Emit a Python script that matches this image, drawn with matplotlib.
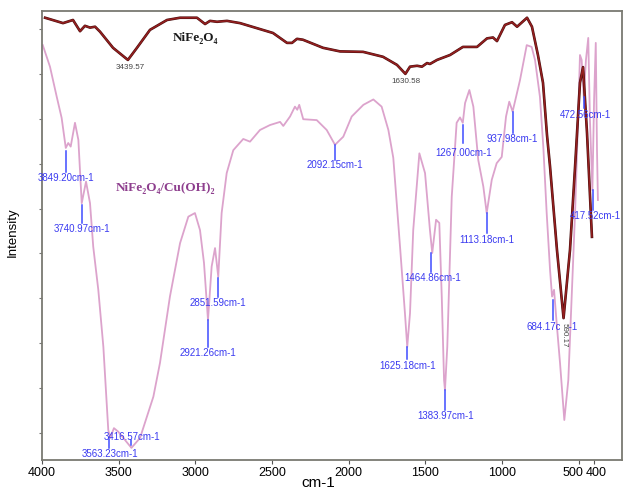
import matplotlib
matplotlib.use("Agg")
import matplotlib.pyplot as plt
import matplotlib.patheffects as pe
from matplotlib.transforms import ScaledTranslation
import numpy as np

# NiFe2O4 spectrum (top, brown)
nife_wn = [3980, 3863, 3798, 3752, 3720, 3687, 3654, 3622, 3537, 3440, 3381, 3296,
           3185, 3100, 2990, 2937, 2905, 2859, 2794, 2709, 2494, 2403, 2370, 2338,
           2299, 2168, 2057, 1907, 1777, 1686, 1631, 1601, 1555, 1523, 1490, 1471,
           1425, 1340, 1256, 1164, 1099, 1060, 1034, 982, 936, 903, 838, 806, 767,
           734, 708, 688, 643, 600, 558, 525, 493, 473, 447, 415]
nife_int = [98.5, 97.3, 98.0, 95.5, 96.7, 96.3, 96.5, 95.4, 91.8, 89.1, 91.8, 95.8,
            98.0, 98.5, 98.5, 97.1, 97.8, 97.6, 97.8, 97.3, 95.1, 92.9, 92.9, 93.8,
            93.6, 91.8, 91.0, 90.9, 89.8, 88.0, 86.0, 87.6, 87.8, 87.6, 88.4, 88.2,
            89.1, 90.2, 92.0, 92.0, 93.9, 94.1, 93.3, 96.9, 97.5, 96.5, 98.5, 96.5,
            90.2, 84.0, 72.4, 65.3, 46.8, 31.6, 46.8, 65.3, 84.0, 87.5, 72.8, 49.7]

# NiFe2O4/Cu(OH)2 spectrum (pink)
comp_wn = [3995, 3948, 3904, 3872, 3845, 3829, 3813, 3785, 3763, 3741, 3713, 3687,
           3666, 3633, 3600, 3568, 3556, 3531, 3503, 3417, 3361, 3274, 3231, 3166,
           3100, 3046, 3003, 2970, 2944, 2918, 2894, 2872, 2851, 2829, 2796, 2753,
           2688, 2644, 2579, 2514, 2448, 2427, 2383, 2351, 2336, 2323, 2297, 2209,
           2144, 2090, 2036, 1981, 1905, 1840, 1786, 1742, 1710, 1666, 1634, 1619,
           1601, 1580, 1540, 1503, 1471, 1456, 1431, 1410, 1394, 1379, 1373, 1358,
           1329, 1297, 1275, 1257, 1242, 1214, 1188, 1156, 1123, 1101, 1068, 1036,
           1003, 975, 954, 932, 884, 840, 808, 786, 754, 732, 710, 688, 675, 662,
           645, 623, 595, 569, 547, 525, 504, 493, 482, 468, 454, 439, 428, 412,
           401, 390, 382, 376]
comp_int = [92.4, 87.6, 80.9, 76.2, 69.5, 70.6, 69.8, 75.1, 71.3, 57.2, 62.0, 57.2,
            47.5, 37.9, 25.2, 6.7, 4.9, 7.1, 6.3, 2.7, 4.9, 14.1, 21.6, 36.4,
            48.3, 54.2, 55.0, 51.2, 43.9, 31.2, 43.1, 47.2, 40.8, 55.0, 63.9, 69.0,
            71.5, 70.9, 73.5, 74.6, 75.3, 74.4, 76.5, 78.7, 78.0, 79.1, 75.9, 75.7,
            73.5, 70.2, 72.0, 76.5, 79.1, 80.3, 78.7, 73.5, 67.3, 47.5, 32.7, 25.2,
            32.7, 51.2, 68.3, 63.9, 51.2, 46.1, 53.5, 52.8, 36.4, 17.8, 15.6, 25.2,
            58.6, 75.1, 76.3, 75.1, 79.5, 82.4, 78.7, 66.8, 60.9, 55.0, 62.4, 66.1,
            67.5, 76.5, 79.8, 77.6, 84.6, 92.4, 92.0, 89.1, 80.9, 69.8, 55.0, 42.3,
            36.4, 37.9, 30.5, 21.6, 8.9, 17.8, 36.4, 55.0, 77.3, 90.2, 89.1, 80.8,
            89.1, 94.0, 75.7, 60.1, 80.2, 92.9, 69.0, 57.9]

# peak labels: text, wavenumber of marker, marker top, marker bottom, text x, text y
peak_text = ["3849.20cm-1", "3740.97cm-1", "3416.57cm-1", "3563.23cm-1", "2921.26cm-1",
             "2851.59cm-1", "2092.15cm-1", "1625.18cm-1", "1464.86cm-1", "1383.97cm-1",
             "1267.00cm-1", "1113.18cm-1", "937.98cm-1", "472.56cm-1", "417.52cm-1",
             "684.17cm-1"]
peak_wn = [3845, 3741, 3422, 3561, 2916, 2851, 2090, 1619, 1461, 1373, 1257, 1101,
           932, 465, 410, 671]
peak_top = [68.8, 56.8, 4.5, 4.7, 31.2, 40.5, 70.2, 25.2, 46.1, 15.6, 74.6, 55.0,
            77.6, 80.9, 60.1, 35.6]
peak_bot = [64.1, 52.8, 3.3, 2.7, 25.2, 36.4, 66.8, 22.4, 41.9, 11.1, 70.5, 50.5,
            72.8, 78.3, 55.7, 31.2]
text_wn = [3845, 3741, 3415, 3557, 2916, 2851, 2090, 1619, 1456, 1366, 1249, 1101,
           932, 457, 395, 675]
text_y = [62.8, 51.4, 5.1, 1.3, 23.9, 34.9, 65.7, 20.9, 40.6, 9.9, 68.3, 49.0,
          71.4, 76.8, 54.3, 29.7]

xticks = [4000, 3500, 3000, 2500, 2000, 1500, 1000, 500, 400]

fig = plt.figure(figsize=(6.30, 4.91), dpi=100)
ax = fig.add_axes([42 / 630, 31 / 491, 580 / 630, 449 / 491])

ax.plot(comp_wn, comp_int, color="#dca3cc", lw=1.3, zorder=2)
ax.plot(nife_wn, nife_int, color="#951f1f", lw=1.1, zorder=3,
        path_effects=[pe.Stroke(linewidth=1.9, foreground="#4a0e0e"), pe.Normal()])

blue = "#3a3af0"
for t, w, y0, y1, tx, ty in zip(peak_text, peak_wn, peak_top, peak_bot, text_wn, text_y):
    ax.plot([w, w], [y0, y1], color="#3f4cff", lw=1.1, zorder=4)
    ax.text(tx, ty, t, color=blue, fontsize=7, ha="center", va="center",
            family="Liberation Sans", zorder=5, clip_on=(t == "417.52cm-1"))

# NiFe2O4 peak labels
ax.text(3423, 87.4, "3439.57", fontsize=5.8, color="#444444", ha="center", va="center",
        family="Liberation Sans")
ax.text(1627, 84.4, "1630.58", fontsize=5.8, color="#444444", ha="center", va="center",
        family="Liberation Sans")
ax.text(594, 27.8, "590.17", fontsize=5.8, color="#444444", ha="center", va="center",
        rotation=270, family="Liberation Sans", zorder=6,
        bbox=dict(facecolor="white", edgecolor="none", pad=0.6))

ax.text(3003, 94.0, "NiFe\u2082O\u2084", fontsize=9.5, fontweight="bold", color="#1a1a1a",
        ha="center", va="center", family=["Liberation Serif", "DejaVu Serif"])
ax.text(3192, 60.6, "NiFe\u2082O\u2084/Cu(OH)\u2082", fontsize=9.5, fontweight="bold",
        color="#8e3f8e", ha="center", va="center", family=["Liberation Serif", "DejaVu Serif"])

ax.set_xlim(4000, 219)
ax.set_ylim(0, 100)
ax.set_xticks(xticks)
ax.set_xticklabels([str(v) for v in xticks], fontsize=9, family="Liberation Sans")
ax.set_yticks(np.arange(6, 100, 10))
ax.set_yticklabels([])
ax.tick_params(axis="x", direction="out", length=3, color="#555555", pad=2)
ax.tick_params(axis="y", direction="out", length=2, color="#777777")

# push the crowded 500/400 labels apart a little
xt = ax.xaxis.get_major_ticks()
xt[7].label1.set_transform(xt[7].label1.get_transform() + ScaledTranslation(-6 / 100, 0, fig.dpi_scale_trans))
xt[8].label1.set_transform(xt[8].label1.get_transform() + ScaledTranslation(2 / 100, 0, fig.dpi_scale_trans))

for s in ax.spines.values():
    s.set_color("#7a7a72")
    s.set_linewidth(1.3)

ax.set_xlabel("cm-1", fontsize=11, family="Liberation Sans")
ax.xaxis.set_label_coords((318 - 42) / 580, -0.036)
ax.set_ylabel("Intensity", fontsize=9.5, family="Liberation Sans")
ax.yaxis.set_label_coords(-0.04, (460 - 232) / 449)

fig.savefig("out.png", dpi=100)
